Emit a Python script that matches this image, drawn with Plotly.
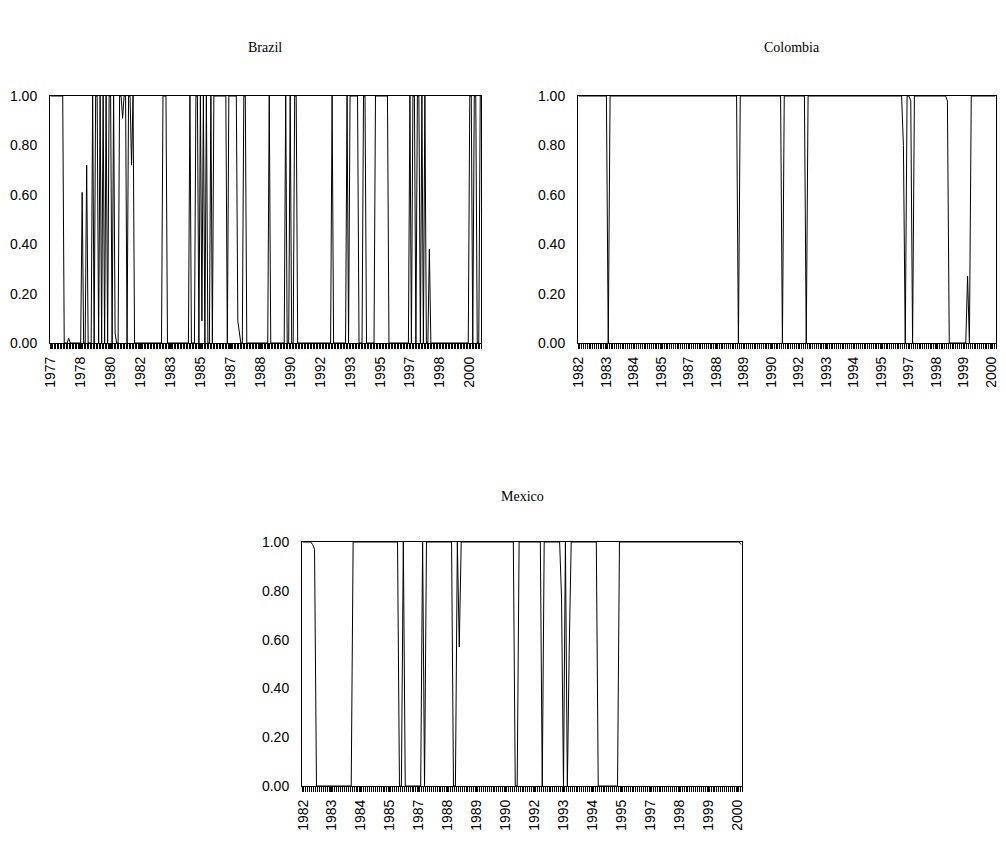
import plotly.graph_objects as go

# ---------------- data (monthly regime probabilities) ----------------
brazil_values = [
    1, 1, 1, 1, 1, 1, 1, 1, 1, 0, 0, 0,            # 1977
    0.02, 0, 0, 0, 0, 0, 0, 0, 0, 0.61, 0, 0,      # 1978
    0.72, 0, 0, 0, 1, 0, 1, 1, 0, 1, 0, 1,         # 1979
    0, 1, 0, 1, 1, 0, 1, 0.04, 0, 0, 1, 1,         # 1980
    0.91, 1, 1, 0, 1, 1, 0.72, 1, 0, 0, 0, 0,      # 1981
    0, 0, 0, 0, 0, 0, 0, 0, 0, 0, 0, 0,            # 1982
    0, 0, 0, 1, 1, 1, 0, 0, 0, 0, 0, 0,            # 1983
    0, 0, 0, 0, 0, 0, 0, 0, 0, 1, 0, 0,            # 1984
    0, 1, 1, 0, 1, 0.09, 1, 0, 1, 0, 0, 1,         # 1985
    0, 1, 1, 1, 1, 1, 1, 1, 1, 1, 0, 1,            # 1986
    1, 1, 1, 1, 1, 0.09, 0.05, 0, 0, 1, 1, 0,      # 1987
    0, 0, 0, 0, 0, 0, 0, 0, 0, 0, 0, 0,            # 1988
    0, 0, 1, 0, 0, 0, 0, 0, 0, 0, 0, 0,            # 1989
    0, 1, 0, 0, 1, 0, 0, 1, 1, 0, 0, 0,            # 1990
    0, 0, 0, 0, 0, 0, 0, 0, 0, 0, 0, 0,            # 1991
    0, 0, 0, 0, 0, 0, 0, 0, 1, 0, 0, 0,            # 1992
    0, 0, 0, 0, 0, 0, 1, 0, 1, 1, 1, 1,            # 1993
    1, 1, 0, 0, 0, 1, 1, 0, 0, 0, 0, 0,            # 1994
    0, 1, 1, 1, 1, 1, 1, 1, 1, 1, 0, 0,            # 1995
    0, 0, 0, 0, 0, 0, 0, 0, 0, 0, 0, 0,            # 1996
    1, 0, 1, 1, 0, 1, 1, 0, 1, 0, 1, 0,            # 1997
    0, 0.38, 0, 0, 0, 0, 0, 0, 0, 0, 0, 0,         # 1998
    0, 0, 0, 0, 0, 0, 0, 0, 0, 0, 0, 0,            # 1999
    0, 0, 0, 0, 1, 1, 0, 1, 1, 0, 0, 1,            # 2000
]

colombia_values = [
    1, 1, 1, 1, 1, 1, 1, 1, 1, 1, 1, 1,            # 1982
    1, 1, 1, 1, 0, 1, 1, 1, 1, 1, 1, 1,            # 1983
    1, 1, 1, 1, 1, 1, 1, 1, 1, 1, 1, 1,            # 1984
    1, 1, 1, 1, 1, 1, 1, 1, 1, 1, 1, 1,            # 1985
    1, 1, 1, 1, 1, 1, 1, 1, 1, 1, 1, 1,            # 1986
    1, 1, 1, 1, 1, 1, 1, 1, 1, 1, 1, 1,            # 1987
    1, 1, 1, 1, 1, 1, 1, 1, 1, 1, 1, 1,            # 1988
    1, 1, 1, 0, 1, 1, 1, 1, 1, 1, 1, 1,            # 1989
    1, 1, 1, 1, 1, 1, 1, 1, 1, 1, 1, 1,            # 1990
    1, 1, 1, 0, 1, 1, 1, 1, 1, 1, 1, 1,            # 1991
    1, 1, 1, 1, 0, 1, 1, 1, 1, 1, 1, 1,            # 1992
    1, 1, 1, 1, 1, 1, 1, 1, 1, 1, 1, 1,            # 1993
    1, 1, 1, 1, 1, 1, 1, 1, 1, 1, 1, 1,            # 1994
    1, 1, 1, 1, 1, 1, 1, 1, 1, 1, 1, 1,            # 1995
    1, 1, 1, 1, 1, 1, 1, 1, 1, 0.8, 0, 1,          # 1996
    1, 0.98, 0, 1, 1, 1, 1, 1, 1, 1, 1, 1,         # 1997
    1, 1, 1, 1, 1, 1, 1, 1, 1, 0.98, 0, 0,         # 1998
    0, 0, 0, 0, 0, 0, 0, 0, 0.27, 0, 1, 1,         # 1999
    1, 1, 1, 1, 1, 1, 1, 1, 1, 1, 1, 1,            # 2000
]

mexico_values = [
    1, 1, 1, 1, 1, 0.99, 0.97, 0, 0, 0, 0, 0,      # 1982
    0, 0, 0, 0, 0, 0, 0, 0, 0, 0, 0, 0,            # 1983
    0, 0, 1, 1, 1, 1, 1, 1, 1, 1, 1, 1,            # 1984
    1, 1, 1, 1, 1, 1, 1, 1, 1, 1, 1, 1,            # 1985
    1, 1, 0, 0, 1, 0, 0, 0, 0, 0, 0, 0,            # 1986
    0, 0, 1, 0, 1, 1, 1, 1, 1, 1, 1, 1,            # 1987
    1, 1, 1, 1, 1, 1, 0, 0, 1, 0.57, 1, 1,         # 1988
    1, 1, 1, 1, 1, 1, 1, 1, 1, 1, 1, 1,            # 1989
    1, 1, 1, 1, 1, 1, 1, 1, 1, 1, 1, 1,            # 1990
    1, 1, 0, 0, 1, 1, 1, 1, 1, 1, 1, 1,            # 1991
    1, 1, 1, 1, 0, 1, 1, 1, 1, 1, 1, 1,            # 1992
    1, 1, 0.77, 0, 1, 0, 0.57, 1, 1, 1, 1, 1,      # 1993
    1, 1, 1, 1, 1, 1, 1, 1, 1, 0, 0, 0,            # 1994
    0, 0, 0, 0, 0, 0, 0, 0, 1, 1, 1, 1,            # 1995
    1, 1, 1, 1, 1, 1, 1, 1, 1, 1, 1, 1,            # 1996
    1, 1, 1, 1, 1, 1, 1, 1, 1, 1, 1, 1,            # 1997
    1, 1, 1, 1, 1, 1, 1, 1, 1, 1, 1, 1,            # 1998
    1, 1, 1, 1, 1, 1, 1, 1, 1, 1, 1, 1,            # 1999
    1, 1, 1, 1, 1, 1, 1, 1, 1, 1, 1, 0.99,         # 2000
]

brazil_tick_labels = ["1977", "1978", "1980", "1982", "1983", "1985", "1987", "1988",
                      "1990", "1992", "1993", "1995", "1997", "1998", "2000"]
brazil_tick_step = 20
colombia_tick_labels = ["1982", "1983", "1984", "1985", "1987", "1988", "1989", "1990",
                        "1992", "1993", "1994", "1995", "1997", "1998", "1999", "2000"]
colombia_tick_step = 15
mexico_tick_labels = list(colombia_tick_labels)
mexico_tick_step = 15

y_ticks = [0, 0.2, 0.4, 0.6, 0.8, 1.0]

# ---------------- layout geometry (pixels in the 1006x846 page) ----------------
# the page body has an 8px margin, so the figure is drawn 8px in from the corner
OFF = 8
W, H = 1006 - OFF, 846 - 2 * OFF
panels = [
    # name, values, tick labels, step, x0, x1, ytop, ybottom, title_x, title_y  (page px)
    ("Brazil", brazil_values, brazil_tick_labels, brazil_tick_step, 50, 481, 96, 343, 265, 47),
    ("Colombia", colombia_values, colombia_tick_labels, colombia_tick_step, 578, 996, 96, 343, 792, 47),
    ("Mexico", mexico_values, mexico_tick_labels, mexico_tick_step, 302, 742, 542, 786, 522, 496),
]

fig = go.Figure()
layout = dict(
    width=W, height=H,
    margin=dict(l=0, r=0, t=0, b=0),
    paper_bgcolor="white", plot_bgcolor="white",
    showlegend=False,
    annotations=[],
)

tick_font = dict(family="Liberation Sans, Arial, sans-serif", size=14, color="black")


def px_x(v):
    return (v - OFF) / W


def px_y(v):
    return 1 - (v - OFF) / H


for k, (name, vals, labels, step, x0, x1, yt, yb, tx, ty) in enumerate(panels):
    n = len(vals)
    sfx = "" if k == 0 else str(k + 1)
    xa = "x" + sfx
    ya = "y" + sfx
    fig.add_trace(go.Scatter(
        x=list(range(n)), y=vals, mode="lines",
        line=dict(color="black", width=1),
        xaxis=xa, yaxis=ya, hoverinfo="skip",
    ))
    layout["xaxis" + sfx] = dict(
        domain=[px_x(x0), px_x(x1)],
        anchor=ya,
        range=[-0.5, n - 0.5],
        tickmode="array",
        tickvals=[i * step for i in range(len(labels))],
        ticktext=labels,
        tickangle=-90,
        ticks="outside", ticklen=5, tickcolor="black", tickwidth=1,
        minor=dict(tickmode="array", tickvals=[i - 0.5 for i in range(n + 1)],
                   ticks="outside", ticklen=5, tickcolor="black", tickwidth=1,
                   showgrid=False),
        ticklabelstandoff=2,
        ticklabeloverflow="allow",
        showline=True, linecolor="black", linewidth=1, mirror=True,
        showgrid=False, zeroline=False,
        tickfont=tick_font,
        automargin=False,
        fixedrange=True,
    )
    layout["yaxis" + sfx] = dict(
        domain=[px_y(yb), px_y(yt)],
        anchor=xa,
        range=[0, 1],
        tickmode="array",
        tickvals=y_ticks,
        tickformat=".2f",
        ticks="",
        ticklabelstandoff=9,
        showline=True, linecolor="black", linewidth=1, mirror=True,
        showgrid=False, zeroline=False,
        tickfont=tick_font,
        automargin=False,
        fixedrange=True,
    )
    layout["annotations"].append(dict(
        text=name, x=px_x(tx), y=px_y(ty), xref="paper", yref="paper",
        xanchor="center", yanchor="middle", showarrow=False,
        font=dict(family="Liberation Serif, Times New Roman, serif", size=14, color="black"),
    ))

fig.update_layout(**layout)
fig.write_html("out.html")
